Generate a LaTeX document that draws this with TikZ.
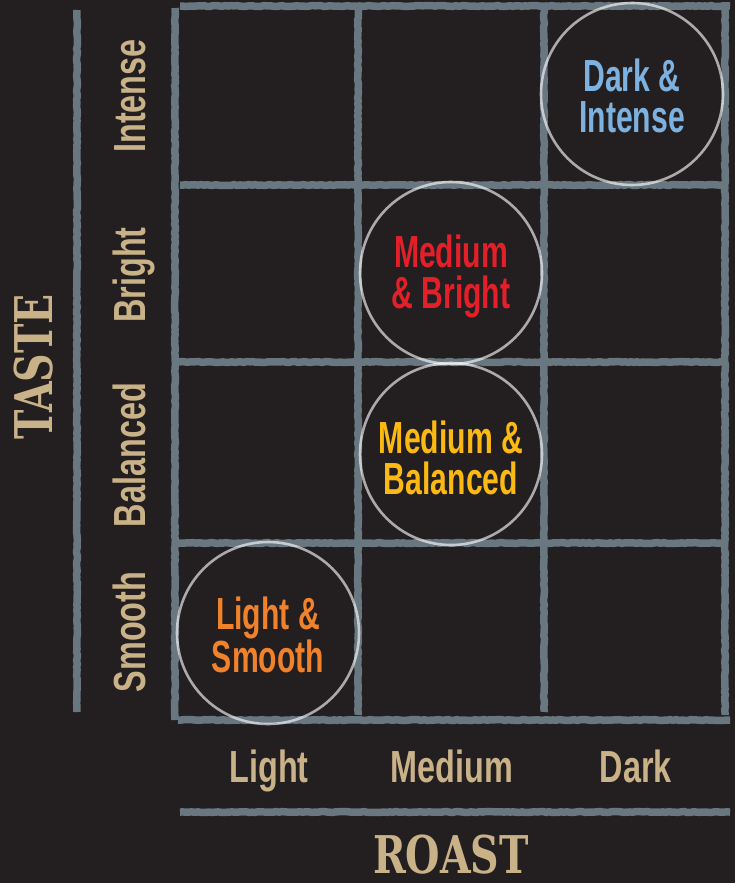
\documentclass[tikz,border=0pt]{standalone}
\usepackage{fontspec}
\newfontfamily\condfont[FakeStretch=0.72]{Liberation Sans Bold}
\newfontfamily\combofont[FakeStretch=0.67]{Liberation Sans Bold}
\newfontfamily\slabfont[FakeStretch=0.76]{DejaVu Serif Bold}
\usetikzlibrary{decorations.pathmorphing}
\definecolor{bg}{HTML}{231F20}
\definecolor{gridc}{HTML}{687780}
\definecolor{tan}{HTML}{C9B188}
\definecolor{cblue}{HTML}{7DB2E0}
\definecolor{cred}{HTML}{E3202A}
\definecolor{cyellow}{HTML}{FDB913}
\definecolor{corange}{HTML}{F0822C}
\begin{document}
\begin{tikzpicture}[x=1pt,y=1pt,
  gridline/.style={draw=gridc, line width=7.5pt, line cap=butt, line join=round,
    decorate, decoration={random steps, segment length=3pt, amplitude=0.45pt}},
  axislabel/.style={text=tan, font=\condfont\fontsize{45}{40}\selectfont, anchor=base, inner sep=0pt},
  titlelabel/.style={text=tan, font=\slabfont\fontsize{52}{52}\selectfont, anchor=base, inner sep=0pt},
  ring/.style={circle, draw=white, draw opacity=0.62, line width=2.6pt, minimum size=182pt, inner sep=0pt},
  combo/.style={inner sep=0pt, align=center, font=\combofont\fontsize{45}{41}\selectfont}
]
\fill[bg] (0,0) rectangle (735,-883);
\useasboundingbox (0,0) rectangle (735,-883);

% vertical grid lines
\draw[gridline] (77,-10) -- (77,-712);
\draw[gridline] (175,-8) -- (175,-720);
\draw[gridline] (358,-8) -- (358,-715);
\draw[gridline] (544,-8) -- (544,-712);
\draw[gridline] (725,-8) -- (725,-715);
% horizontal grid lines
\draw[gridline] (180,-6) -- (730,-6);
\draw[gridline] (180,-185) -- (728,-185);
\draw[gridline] (178,-362) -- (728,-362);
\draw[gridline] (178,-543) -- (728,-543);
\draw[gridline] (178,-720) -- (730,-720);
\draw[gridline] (180,-812) -- (730,-812);

% row labels (taste)
\node[axislabel, rotate=90] (intense) at (145,-96) {Intense};
\node[axislabel, rotate=90] (bright) at (145,-275) {Bright};
\node[axislabel, rotate=90] (balanced) at (145,-455) {Balanced};
\node[axislabel, rotate=90] (smooth) at (145,-632) {Smooth};

% column labels (roast)
\node[axislabel] (light) at (269,-782) {Light};
\node[axislabel] (medium) at (452,-782) {Medium};
\node[axislabel] (dark) at (636,-782) {Dark};

% axis titles
\node[titlelabel, rotate=90] (taste) at (52,-367) {TASTE};
\node[titlelabel] (roast) at (451,-873) {ROAST};

% combination circles
\node[ring] (darkintense) at (632,-94) {};
\node[ring] (mediumbright) at (451,-273) {};
\node[ring] (mediumbalanced) at (451,-454) {};
\node[ring] (lightsmooth) at (268,-633) {};
\node[combo, text=cblue] (tdarkintense) at ([yshift=-2pt]darkintense.center) {Dark \&\\Intense};
\node[combo, text=cred] (tmediumbright) at ([yshift=-3pt]mediumbright.center) {Medium\\\& Bright};
\node[combo, text=cyellow] (tmediumbalanced) at ([yshift=-4pt]mediumbalanced.center) {Medium \&\\Balanced};
\node[combo, text=corange] (tlightsmooth) at ([yshift=-2pt]lightsmooth.center) {Light \&\\Smooth};
\end{tikzpicture}
\end{document}
